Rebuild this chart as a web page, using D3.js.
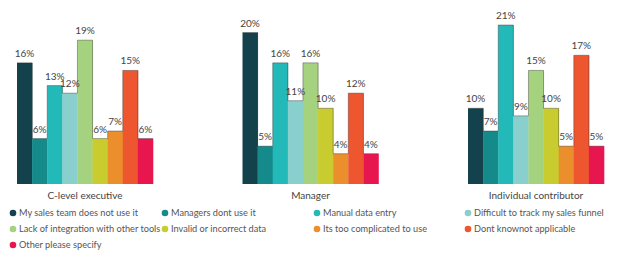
<!DOCTYPE html>
<html>
<head>
<meta charset="utf-8">
<script src="https://cdn.jsdelivr.net/npm/d3@7"></script>
<style>
  body { margin: 0; background: #fff; }
  text { font-family: Lato, "Noto Sans", sans-serif; }
</style>
</head>
<body>
<div id="chart"></div>
<script>
// Reasons for not using CRM, by role (grouped bars)
const W = 618, H = 258;

const groups = ["C-level executive", "Manager", "Individual contributor"];
const reasons = [
  "My sales team does not use it",
  "Managers dont use it",
  "Manual data entry",
  "Difficult to track my sales funnel",
  "Lack of integration with other tools",
  "Invalid or incorrect data",
  "Its too complicated to use",
  "Dont knownot applicable",
  "Other please specify"
];
const colors = ["#13424c", "#148a8b", "#22b9b8", "#88cfcd", "#a5d27f", "#c9cc2f", "#ea8f2b", "#ee5630", "#e8164f"];

// values in %, one array per group, same order as reasons
const cLevel = [16, 6, 13, 12, 19, 6, 7, 15, 6];
const manager = [20, 5, 16, 11, 16, 10, 4, 12, 4];
const individual = [10, 7, 21, 9, 15, 10, 5, 17, 5];
const values = [cLevel, manager, individual];

const svg = d3.select("#chart").append("svg").attr("width", W).attr("height", H);

const baseY = 184;
const x0 = d3.scaleBand().domain(groups).range([17, 604]).paddingInner(0.397).paddingOuter(0);
const x1 = d3.scaleBand().domain(reasons).range([0, x0.bandwidth()]);
const y = d3.scaleLinear().domain([0, 21]).range([baseY, 25]);
const color = d3.scaleOrdinal(reasons, colors);

const g = svg.selectAll(".grp").data(groups).join("g")
  .attr("class", "grp")
  .attr("transform", d => `translate(${x0(d)},0)`);

g.each(function (grp, gi) {
  const sel = d3.select(this);
  const data = reasons.map((r, i) => ({ r, v: values[gi][i] }));

  sel.selectAll("rect").data(data).join("rect")
    .attr("x", d => x1(d.r))
    .attr("y", d => y(d.v))
    .attr("width", x1.bandwidth() + 0.3)
    .attr("height", d => baseY - y(d.v))
    .attr("fill", d => color(d.r));

  // thin step outline over the bar tops
  const pts = [];
  data.forEach(d => {
    pts.push([x1(d.r), y(d.v)]);
    pts.push([x1(d.r) + x1.bandwidth(), y(d.v)]);
  });
  sel.append("path")
    .attr("d", d3.line()(pts))
    .attr("fill", "none")
    .attr("stroke", "#333")
    .attr("stroke-opacity", 0.5)
    .attr("stroke-width", 0.8);

  sel.selectAll("text.val").data(data).join("text")
    .attr("class", "val")
    .attr("x", d => x1(d.r) + x1.bandwidth() / 2)
    .attr("y", d => y(d.v) - 6)
    .attr("text-anchor", "middle")
    .attr("font-size", 10)
    .attr("fill", "#444")
    .text(d => d.v + "%");

  sel.append("text")
    .attr("x", x0.bandwidth() / 2)
    .attr("y", 199)
    .attr("text-anchor", "middle")
    .attr("font-size", 10)
    .attr("fill", "#444")
    .text(grp);
});

// legend: 4 columns
const colX = [13, 165, 317, 468];
const rowY = [213, 229, 245];
const leg = svg.selectAll(".leg").data(reasons).join("g")
  .attr("class", "leg")
  .attr("transform", (d, i) => `translate(${colX[i % 4]},${rowY[Math.floor(i / 4)]})`);
leg.append("circle").attr("r", 3.3).attr("fill", d => color(d));
leg.append("text")
  .attr("x", 6)
  .attr("y", 3.3)
  .attr("font-size", 9.2)
  .attr("fill", "#555")
  .text(d => d);
</script>
</body>
</html>
